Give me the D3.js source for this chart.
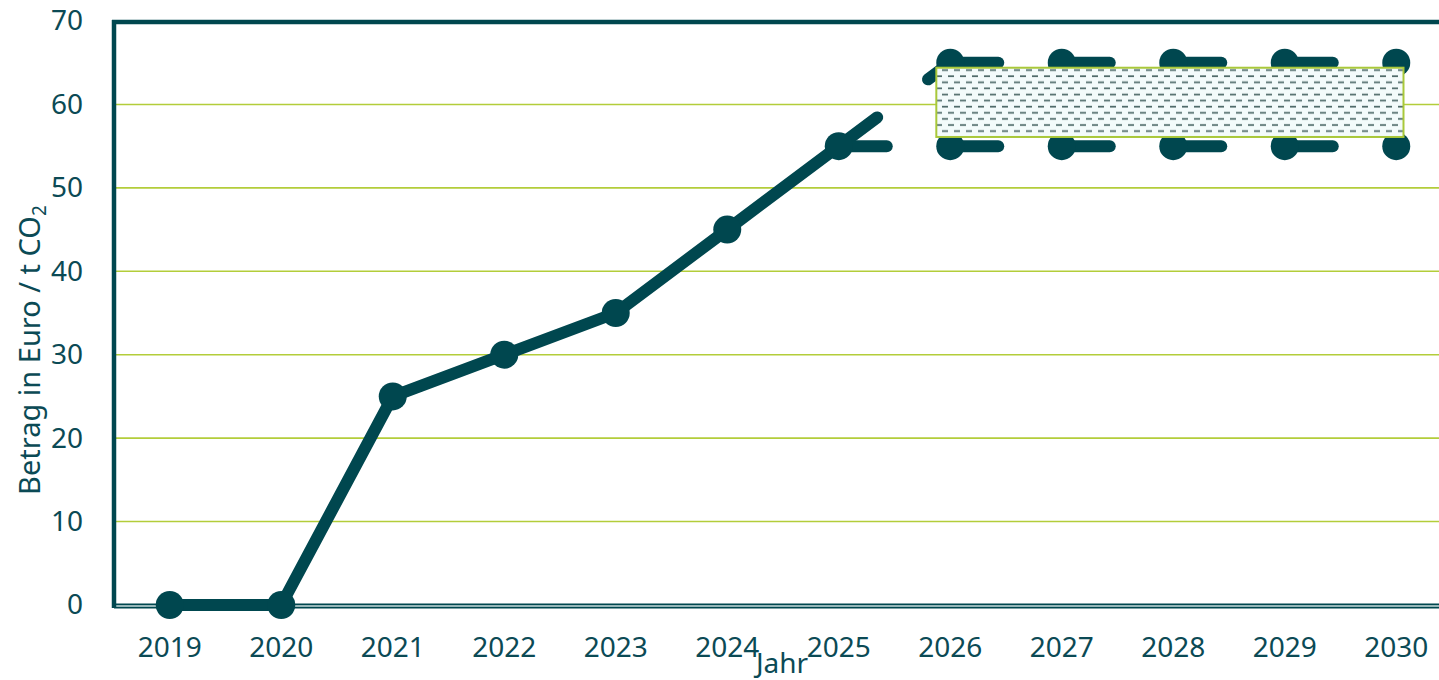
<!DOCTYPE html>
<html>
<head>
<meta charset="utf-8">
<script src="https://cdn.jsdelivr.net/npm/d3@7"></script>
<style>
  body { margin: 0; background: #fff; }
  text { font-family: "Noto Sans", "Open Sans", sans-serif; fill: #0b4a55; }
</style>
</head>
<body>
<div id="chart"></div>
<script>
// data
var years = ["2019", "2020", "2021", "2022", "2023", "2024", "2025", "2026", "2027", "2028", "2029", "2030"];
var actualYears = ["2019", "2020", "2021", "2022", "2023", "2024", "2025"];
var actualValues = [0, 0, 25, 30, 35, 45, 55];
var corridorYears = ["2025", "2026", "2027", "2028", "2029", "2030"];
var upperValues = [55, 65, 65, 65, 65, 65];
var lowerValues = [55, 55, 55, 55, 55, 55];
var bandYears = ["2026", "2030"];
var bandValues = [56.1, 64.4];
var yTicks = [0, 10, 20, 30, 40, 50, 60, 70];

var svgWidth = 1439;
var svgHeight = 680;
var margin = { top: 21, left: 114, bottom: 75 };
var dark = "#00474f";

var svg = d3.select("#chart")
  .append("svg")
  .attr("width", svgWidth)
  .attr("height", svgHeight);

var x = d3.scaleBand()
  .domain(years)
  .range([margin.left, margin.left + 111.5 * years.length]);
var cx = d => x(d) + x.bandwidth() / 2;

var y = d3.scaleLinear()
  .domain([0, 70])
  .range([svgHeight - margin.bottom, margin.top]);

// grid lines
svg.append("g")
  .selectAll("line")
  .data(yTicks.filter(d => d > 0 && d < 70))
  .enter()
  .append("line")
  .attr("x1", margin.left + 2)
  .attr("x2", svgWidth)
  .attr("y1", d => y(d))
  .attr("y2", d => y(d))
  .attr("stroke", "#b3cd3a")
  .attr("stroke-width", 1.6);

// axes
var leftAxis = d3.axisLeft(y).tickValues(yTicks).tickSize(0).tickPadding(31);
var gy = svg.append("g")
  .attr("transform", `translate(${margin.left}, 0)`)
  .call(leftAxis);
gy.select(".domain").remove();
gy.selectAll("text").attr("font-size", 28).style("font-family", null);

var bottomAxis = d3.axisBottom(x).tickSize(0).tickPadding(32);
var gx = svg.append("g")
  .attr("transform", `translate(0, ${y(0)})`)
  .call(bottomAxis);
gx.select(".domain").remove();
gx.selectAll("text").attr("font-size", 28).style("font-family", null);

// frame lines
svg.append("line")
  .attr("x1", margin.left).attr("x2", svgWidth)
  .attr("y1", y(0) + 1).attr("y2", y(0) + 1)
  .attr("stroke", dark).attr("stroke-width", 5);
svg.append("line")
  .attr("x1", margin.left + 2).attr("x2", svgWidth)
  .attr("y1", y(0) + 1).attr("y2", y(0) + 1)
  .attr("stroke", "#c9dcdc").attr("stroke-width", 1.6);
svg.append("line")
  .attr("x1", margin.left).attr("x2", margin.left)
  .attr("y1", y(70) - 1).attr("y2", y(0) + 3)
  .attr("stroke", dark).attr("stroke-width", 4.5);
svg.append("line")
  .attr("x1", margin.left - 2).attr("x2", svgWidth)
  .attr("y1", y(70) + 1).attr("y2", y(70) + 1)
  .attr("stroke", dark).attr("stroke-width", 4.5);

// dashed corridor series, pattern restarts at every point
function dashedSeries(values) {
  var g = svg.append("g");
  for (var i = 0; i < corridorYears.length - 1; i++) {
    g.append("line")
      .attr("x1", cx(corridorYears[i])).attr("y1", y(values[i]))
      .attr("x2", cx(corridorYears[i + 1])).attr("y2", y(values[i + 1]))
      .attr("stroke", dark)
      .attr("stroke-width", 12)
      .attr("stroke-linecap", "round")
      .attr("stroke-dasharray", "48,63.5");
  }
  g.selectAll("circle")
    .data(corridorYears.slice(1))
    .enter()
    .append("circle")
    .attr("cx", (d) => cx(d))
    .attr("cy", (d, i) => y(values[i + 1]))
    .attr("r", 14)
    .attr("fill", dark);
}
dashedSeries(upperValues);
dashedSeries(lowerValues);

// hatched band
var defs = svg.append("defs");
var pat = defs.append("pattern")
  .attr("id", "hatch")
  .attr("patternUnits", "userSpaceOnUse")
  .attr("width", 12)
  .attr("height", 12.2);
pat.append("rect").attr("width", 12).attr("height", 12.2).attr("fill", "#f3fbfb");
pat.append("line").attr("x1", 0).attr("x2", 6).attr("y1", 3).attr("y2", 3)
  .attr("stroke", "#4e6a69").attr("stroke-width", 1.7);
pat.append("line").attr("x1", 6).attr("x2", 12).attr("y1", 9.1).attr("y2", 9.1)
  .attr("stroke", "#4e6a69").attr("stroke-width", 1.7);

var bw = x.bandwidth();
svg.append("rect")
  .attr("x", cx(bandYears[0]) - bw * 0.125)
  .attr("y", y(bandValues[1]))
  .attr("width", cx(bandYears[1]) + bw * 0.065 - (cx(bandYears[0]) - bw * 0.125))
  .attr("height", y(bandValues[0]) - y(bandValues[1]))
  .attr("fill", "url(#hatch)")
  .attr("stroke", "#a9c83a")
  .attr("stroke-width", 2);

// actual prices
var line = d3.line()
  .x((d, i) => cx(actualYears[i]))
  .y(d => y(d));

svg.append("path")
  .datum(actualValues)
  .attr("d", line)
  .attr("fill", "none")
  .attr("stroke", dark)
  .attr("stroke-width", 12)
  .attr("stroke-linejoin", "round");

svg.append("g")
  .selectAll("circle")
  .data(actualValues)
  .enter()
  .append("circle")
  .attr("cx", (d, i) => cx(actualYears[i]))
  .attr("cy", d => y(d))
  .attr("r", 14)
  .attr("fill", dark);

// axis titles
svg.append("text")
  .attr("x", 782)
  .attr("y", 673)
  .attr("text-anchor", "middle")
  .attr("font-size", 28)
  .text("Jahr");

var yTitle = svg.append("text")
  .attr("transform", "translate(40, 350) rotate(-90)")
  .attr("text-anchor", "middle")
  .attr("font-size", 29);
yTitle.append("tspan").text("Betrag in Euro / t CO");
yTitle.append("tspan").attr("font-size", 19).attr("dy", 6).text("2");
</script>
</body>
</html>
